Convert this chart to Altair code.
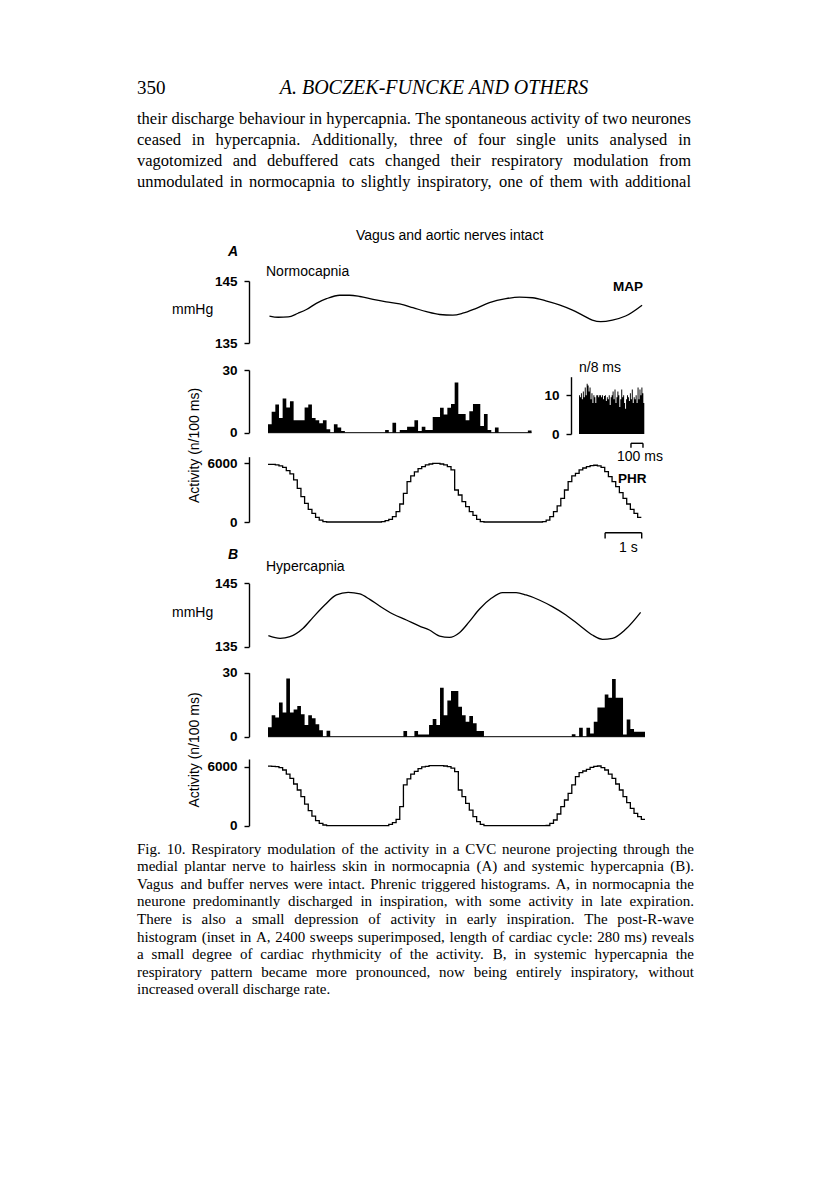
import altair as alt
import pandas as pd

# ---------------- data ----------------
T_END = 10.3          # s, length of the phrenic-triggered sweep
BIN = 0.1             # s, histogram bin (n/100 ms)

map_a_t = [0.04, 0.28, 0.55, 0.82, 1.05, 1.32, 1.60, 1.96, 2.23, 2.51, 2.87, 3.23, 3.60, 3.96, 4.33, 4.69,
           5.05, 5.32, 5.69, 6.05, 6.50, 6.87, 7.23, 7.59, 7.96, 8.32, 8.59, 8.86, 9.09, 9.41, 9.77, 10.22]
map_a_v = [139.35, 139.15, 139.2, 139.8, 140.4, 141.4, 142.15, 142.7, 142.7, 142.5, 142.05, 141.65, 141.3,
           140.7, 140.05, 139.6, 139.5, 139.8, 140.6, 141.5, 142.15, 142.4, 142.3, 141.8, 141.15, 140.3,
           139.5, 138.7, 138.45, 138.7, 139.35, 141.1]

map_b_t = [0.01, 0.33, 0.60, 0.96, 1.23, 1.55, 1.87, 2.19, 2.51, 2.78, 3.05, 3.41, 3.78, 4.14, 4.41, 4.69,
           4.96, 5.23, 5.50, 5.78, 6.10, 6.41, 6.78, 7.05, 7.41, 7.77, 8.14, 8.50, 8.86, 9.14, 9.41, 9.77, 10.18]
map_b_v = [136.74, 136.32, 136.58, 137.9, 139.63, 141.58, 143.16, 143.58, 143.32, 142.47, 141.42, 140.16,
           139.21, 138.26, 137.63, 136.68, 136.47, 137.21, 138.95, 140.95, 142.63, 143.53, 143.53, 143.16,
           142.37, 141.32, 140.0, 138.42, 136.84, 136.16, 136.32, 137.74, 140.42]

hist_a = [4, 10, 13.5, 7, 16.4, 12, 15, 6, 6, 6, 12, 13.5, 7, 6, 4.5, 6, 1.6, 0, 4, 2.5, 0.8,
          0, 0, 0, 0, 0, 0, 0, 0, 0, 0, 0,
          1.3, 0, 4.8, 0, 1.3, 1.3, 2.9, 2.9, 6, 0.8, 2.9, 1.3, 1.3, 7.5, 7.5, 11.9, 8.7, 11.9, 13.7, 24,
          9, 9, 6, 10.3, 13.7, 13.7, 3.2, 9, 1.3, 0, 2.5,
          0, 0, 0, 0, 0, 0, 0, 0, 1]

hist_b = [4.4, 10, 9, 16, 11.4, 27.3, 11.4, 12.8, 14.4, 10.5, 5.5, 10, 8.6, 5.8, 3, 0, 2.8,
          0, 0, 0, 0, 0, 0, 0, 0, 0, 0, 0, 0, 0, 0, 0, 0, 0, 0, 0, 0,
          2.7, 0, 0, 2.7, 1, 1, 1, 5.5, 8.3, 5.5, 23, 10, 17, 21.4, 21.4, 14, 10, 7, 9.7, 6.3, 2.7, 2.7,
          0, 0, 0, 0, 0, 0, 0, 0, 0, 0, 0, 0, 0, 0, 0, 0, 0, 0, 0, 0, 0, 0, 0, 0,
          1.1, 0, 4.2, 0, 4.2, 1.5, 7, 13.7, 13.7, 19.8, 18.3, 27, 18.3, 18.3, 1, 8.1, 3.6, 2.3, 2.3, 2.3]

phr_a = [5900, 5900, 5830, 5730, 5590, 5250, 4910, 4300, 3440, 2590, 1910, 1300, 890, 480, 200, 40,
         0, 0, 0, 0, 0, 0, 0, 0, 0, 0, 0, 0, 0, 0, 0,
         30, 140, 270, 550, 1060, 1840, 2930, 4130, 4710, 5120, 5460, 5660, 5830, 5930, 6000, 6000,
         5930, 5830, 5660, 5320, 3270, 2760, 2080, 1570, 1060, 680, 270, 30,
         0, 0, 0, 0, 0, 0, 0, 0, 0, 0, 0, 0, 0, 0, 0, 0,
         30, 200, 550, 1060, 1640, 2420, 3270, 4130, 4710, 4980, 5320, 5520, 5660, 5760, 5800, 5730,
         5590, 5150, 4640, 4130, 3610, 3000, 2420, 1840, 1300, 890, 480]

phr_b = [6050, 6030, 6000, 5900, 5660, 5250, 4810, 4240, 3630, 2950, 2200, 1530, 980, 510, 240, 70,
         0, 0, 0, 0, 0, 0, 0, 0, 0, 0, 0, 0, 0, 0, 0, 0, 0,
         140, 310, 640, 1930, 4140, 4750, 5250, 5530, 5800, 5970, 6030, 6100, 6100, 6100, 6100, 6070,
         6000, 5860, 5490, 3630, 2950, 2270, 1590, 915, 410, 140,
         0, 0, 0, 0, 0, 0, 0, 0, 0, 0, 0, 0, 0, 0, 0, 0, 0,
         20, 240, 580, 1190, 1930, 2610, 3290, 4140, 4980, 5390, 5560, 5730, 5930, 6030, 6070, 5900,
         5660, 5250, 4810, 4240, 3630, 2950, 2340, 1760, 1250, 915, 640]

INSET_BIN_MS = 8
inset_counts = [10, 9.5, 10.5, 9, 11, 9.5, 12, 10, 13, 12.5, 11, 12, 9, 10.5, 8, 10, 9.5, 8, 10, 10,
                9.5, 10, 10, 9.5, 10, 9, 9.8, 10, 8.5, 9.5, 9, 10, 7.5, 9.5, 10, 11, 9, 11.5, 8, 9.5,
                11, 10, 7, 9, 11.5, 9.5, 10, 8, 6.5, 9, 10, 9.5, 8.5, 10.5, 9, 11.5, 8, 9.5, 9, 10,
                8, 12, 9, 11.5, 10, 12, 10.5, 8]

map_ticks = [135, 145]
hist_ticks = [0, 30]
phr_ticks = [0, 6000]
inset_ticks = [0, 10]

scale_bar_s = [9.21, 10.21]       # 1 s calibration
scale_bar_ms = [433, 533]         # 100 ms calibration of the inset

header_left = "350"
header_title = "A. BOCZEK-FUNCKE AND OTHERS"
body_lines = [
    "their discharge behaviour in hypercapnia. The spontaneous activity of two neurones",
    "ceased in hypercapnia. Additionally, three of four single units analysed in",
    "vagotomized and debuffered cats changed their respiratory modulation from",
    "unmodulated in normocapnia to slightly inspiratory, one of them with additional",
]
caption_lines = [
    "Fig. 10. Respiratory modulation of the activity in a CVC neurone projecting through the",
    "medial plantar nerve to hairless skin in normocapnia (A) and systemic hypercapnia (B).",
    "Vagus and buffer nerves were intact. Phrenic triggered histograms. A, in normocapnia the",
    "neurone predominantly discharged in inspiration, with some activity in late expiration.",
    "There is also a small depression of activity in early inspiration. The post-R-wave",
    "histogram (inset in A, 2400 sweeps superimposed, length of cardiac cycle: 280 ms) reveals",
    "a small degree of cardiac rhythmicity of the activity. B, in systemic hypercapnia the",
    "respiratory pattern became more pronounced, now being entirely inspiratory, without",
    "increased overall discharge rate.",
]

# ---------------- layout helpers ----------------
SANS = "Liberation Sans"
SERIF = "Liberation Serif"
W, H = 800, 1161


def P(v):
    return v - 8


def tscale():
    return alt.Scale(domain=[0, T_END], range=[P(268), P(645)], nice=False, zero=False)


def yscale(dom, bottom, top):
    return alt.Scale(domain=dom, range=[P(bottom), P(top)], nice=False, zero=False)


def yaxis(ticks, xpage):
    return alt.Axis(orient="left", offset=-P(xpage), values=ticks, title=None, grid=False, format="d",
                    domainColor="black", domainWidth=1.4, tickColor="black", tickWidth=1.4,
                    tickSize=5, labelColor="black", labelFont=SANS, labelFontSize=13.5,
                    labelFontWeight="bold", labelPadding=7, labelOverlap=False, labelFlush=False)


PXX = alt.Scale(domain=[8, 8 + W], range=[0, W], nice=False, zero=False)
PXY = alt.Scale(domain=[8, 8 + H], range=[0, H], nice=False, zero=False)


def step_df(values, width):
    n = len(values)
    return pd.DataFrame({"t": [i * width for i in range(n)] + [n * width],
                         "v": list(values) + [values[-1]]})


layers = []

# MAP traces
for t, v, bot, top in [(map_a_t, map_a_v, 343, 281), (map_b_t, map_b_v, 646.7, 583.3)]:
    df = pd.DataFrame({"t": t, "v": v})
    layers.append(alt.Chart(df).mark_line(color="black", strokeWidth=1.3, interpolate="monotone").encode(
        x=alt.X("t:Q", scale=tscale(), axis=None),
        y=alt.Y("v:Q", scale=yscale([135, 145], bot, top), axis=yaxis(map_ticks, 249))))

# histograms
for counts, bot, top in [(hist_a, 432.7, 370), (hist_b, 736.7, 672.7)]:
    df = step_df(counts, BIN)
    layers.append(alt.Chart(df).mark_area(color="black", interpolate="step-after").encode(
        x=alt.X("t:Q", scale=tscale(), axis=None),
        y=alt.Y("v:Q", scale=yscale([0, 30], bot, top), axis=yaxis(hist_ticks, 249))))
    base = pd.DataFrame({"t0": [0], "t1": [len(counts) * BIN], "z": [0]})
    layers.append(alt.Chart(base).mark_rule(color="black", strokeWidth=1).encode(
        x=alt.X("t0:Q", scale=tscale(), axis=None), x2="t1",
        y=alt.Y("z:Q", scale=yscale([0, 30], bot, top), axis=None)))

# phrenic (PHR) staircase
for vals, bot, top, ymax in [(phr_a, 522, 456.7, 6675), (phr_b, 825.7, 759, 6780)]:
    df = step_df(vals, BIN)
    layers.append(alt.Chart(df).mark_line(color="black", strokeWidth=1.3, interpolate="step-after").encode(
        x=alt.X("t:Q", scale=tscale(), axis=None),
        y=alt.Y("v:Q", scale=yscale([0, ymax], bot, top), axis=yaxis(phr_ticks, 249))))

# inset post-R-wave histogram
inset_x = alt.Scale(domain=[0, len(inset_counts) * INSET_BIN_MS], range=[P(579), P(644.3)],
                    nice=False, zero=False)
layers.append(alt.Chart(step_df(inset_counts, INSET_BIN_MS)).mark_area(
    color="black", interpolate="step-after").encode(
    x=alt.X("t:Q", scale=inset_x, axis=None),
    y=alt.Y("v:Q", scale=yscale([0, 14.8], 434, 376.7), axis=yaxis(inset_ticks, 571))))

# calibration bars
sb = pd.DataFrame({"t0": [scale_bar_s[0]], "t1": [scale_bar_s[1]]})
layers.append(alt.Chart(sb).mark_rule(color="black", strokeWidth=1.4).encode(
    x=alt.X("t0:Q", scale=tscale(), axis=None), x2="t1", y=alt.value(P(532.7))))
layers.append(alt.Chart(pd.DataFrame({"t": scale_bar_s})).mark_rule(color="black", strokeWidth=1.4).encode(
    x=alt.X("t:Q", scale=tscale(), axis=None), y=alt.value(P(532.7)), y2=alt.value(P(538.5))))
sbi = pd.DataFrame({"t0": [scale_bar_ms[0]], "t1": [scale_bar_ms[1]]})
layers.append(alt.Chart(sbi).mark_rule(color="black", strokeWidth=1.4).encode(
    x=alt.X("t0:Q", scale=inset_x, axis=None), x2="t1", y=alt.value(P(443.3))))
layers.append(alt.Chart(pd.DataFrame({"t": scale_bar_ms})).mark_rule(color="black", strokeWidth=1.4).encode(
    x=alt.X("t:Q", scale=inset_x, axis=None), y=alt.value(P(443.3)), y2=alt.value(P(447.8))))


# ---------------- text ----------------
def text_layer(rows, **kw):
    df = pd.DataFrame(rows, columns=["x", "y", "text"])
    return alt.Chart(df).mark_text(color="black", baseline="middle", **kw).encode(
        x=alt.X("x:Q", scale=PXX, axis=None),
        y=alt.Y("y:Q", scale=PXY, axis=None),
        text="text:N")


TIMES_W = dict(zip("abcdefghijklmnopqrstuvwxyz",
                   [444, 500, 444, 500, 444, 333, 500, 500, 278, 278, 500, 278, 778, 500, 500, 500,
                    500, 333, 389, 278, 500, 500, 722, 500, 500, 444]))
TIMES_W.update(dict(zip("ABCDEFGHIJKLMNOPQRSTUVWXYZ",
                        [722, 667, 667, 722, 611, 556, 722, 722, 333, 389, 722, 611, 889, 722, 722, 556,
                         722, 667, 556, 611, 722, 722, 944, 722, 722, 611])))
TIMES_W.update({" ": 250, ".": 250, ",": 250, ":": 278, ";": 278, "(": 333, ")": 333, "-": 333, "/": 278})


def words_of(line, y, left, right, size, justify=True):
    words = line.split(" ")
    widths = [sum(TIMES_W.get(c, 500) for c in w) / 1000 * size for w in words]
    gap = 0.25 * size
    if justify and len(words) > 1:
        gap = max((right - left - sum(widths)) / (len(words) - 1), 0.18 * size)
    rows, x = [], left
    for w, wd in zip(words, widths):
        rows.append((x, y, w))
        x += wd + gap
    return rows


BODY_SIZE = 16.5
body_rows = []
for i, line in enumerate(body_lines):
    body_rows += words_of(line, 119 + 21 * i, 137, 691, BODY_SIZE)
layers.append(text_layer(body_rows, font=SERIF, fontSize=BODY_SIZE, align="left"))

CAP_SIZE = 15
cap_rows = []
for i, line in enumerate(caption_lines):
    cap_rows += words_of(line, 848.5 + 17.6 * i, 137, 694, CAP_SIZE, justify=i < len(caption_lines) - 1)
layers.append(text_layer(cap_rows, font=SERIF, fontSize=CAP_SIZE, align="left"))

layers.append(text_layer([(137, 88, header_left)], font=SERIF, fontSize=19, align="left"))
layers.append(text_layer([(434, 88, header_title)], font=SERIF, fontSize=20, fontStyle="italic",
                         align="center"))

layers.append(text_layer([
    (356, 236, "Vagus and aortic nerves intact"),
    (266, 272, "Normocapnia"),
    (266, 567, "Hypercapnia"),
    (172, 310, "mmHg"),
    (172, 613, "mmHg"),
    (619, 548, "1 s"),
    (617, 457, "100 ms"),
    (579, 368, "n/8 ms"),
], font=SANS, fontSize=14, align="left"))
layers.append(text_layer([(613, 287, "MAP"), (618, 479, "PHR")], font=SANS, fontSize=13.5,
                         fontWeight="bold", align="left"))
layers.append(text_layer([(228, 252, "A"), (228, 555, "B")], font=SANS, fontSize=14,
                         fontWeight="bold", fontStyle="italic", align="left"))
layers.append(text_layer([(195, 445.5, "Activity (n/100 ms)"), (195, 750, "Activity (n/100 ms)")],
                         font=SANS, fontSize=14, align="center", angle=270))

chart = alt.layer(*layers).resolve_scale(x="independent", y="independent").properties(
    width=W, height=H, padding=0, autosize="none", background="white"
).configure_view(strokeWidth=0)

chart.save("out.html", embed_options={"renderer": "svg", "actions": False})
